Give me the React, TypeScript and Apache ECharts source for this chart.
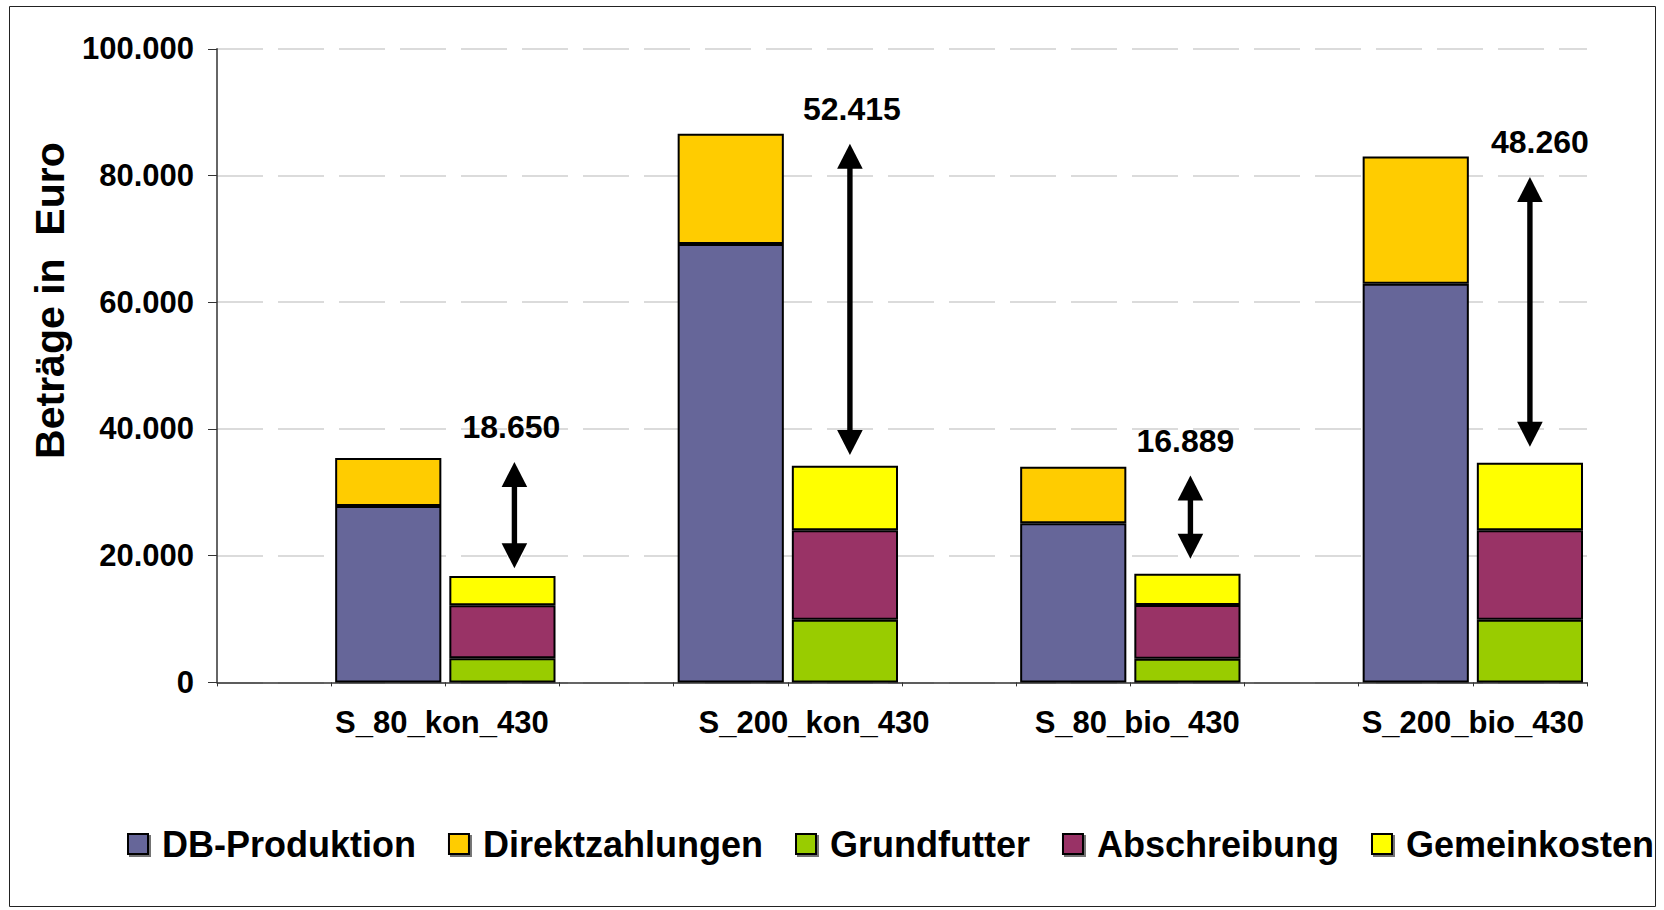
import React, { useEffect, useRef } from "react";
import * as echarts from "echarts";

// ---- data ----
const scenarios = ["S_80_kon_430", "S_200_kon_430", "S_80_bio_430", "S_200_bio_430"];
const dbProduktion = [27840, 69200, 25100, 62900];
const direktzahlungen = [7580, 17400, 8950, 20100];
const grundfutter = [3800, 9900, 3720, 9900];
const abschreibung = [8370, 14100, 8510, 14100];
const gemeinkosten = [4620, 10200, 4930, 10650];
const differenzen = [18650, 52415, 16889, 48260];
const arrowTop = [34800, 85000, 32650, 79750];
const arrowBottom = [18000, 35900, 19500, 37200];
const yTicks = [0, 20000, 40000, 60000, 80000, 100000];

// ---- layout constants ----
const FONT = "'Liberation Sans', Arial, sans-serif";
const labelSlots = [1.97, 5.23, 8.06, 11.0];
const arrowNudge = [12, 5, 3, 0];
const arrowLabelNudge = [-3, 2, -5, 10];

const fmt = (v: number) => String(Math.round(v)).replace(/\B(?=(\d{3})+(?!\d))/g, ".");

const slotNames = scenarios.flatMap((s) => [`${s}|leer`, `${s}|Erlöse`, `${s}|Kosten`]);
const toSlots = (vals: number[], offset: number) => {
  const arr: (number | string)[] = slotNames.map(() => "-");
  vals.forEach((v, i) => {
    arr[3 * i + offset] = v;
  });
  return arr;
};

export default function App() {
  const ref = useRef<HTMLDivElement>(null);
  useEffect(() => {
    if (!ref.current) return;
    const chart = echarts.init(ref.current, undefined, { renderer: "svg" });
    const barBase = {
      type: "bar" as const,
      stack: "total",
      barCategoryGap: "7%",
      xAxisIndex: 0,
      yAxisIndex: 0,
    };
    const style = (c: string) => ({ color: c, borderColor: "#000", borderWidth: 2 });
    const headH = 25;
    const hw = 12.8;
    chart.setOption({
      animation: false,
      backgroundColor: "#fff",
      textStyle: { fontFamily: FONT },
      graphic: [
        {
          type: "rect",
          silent: true,
          shape: { x: 9.5, y: 6.5, width: 1646, height: 900 },
          style: { fill: "none", stroke: "#222", lineWidth: 1 },
        },
      ],
      grid: { left: 217, right: 77, top: 48.8, bottom: 227.6, containLabel: false },
      legend: {
        left: 127,
        top: 826,
        width: 1600,
        padding: 0,
        itemGap: 32,
        itemWidth: 20,
        itemHeight: 20,
        icon: "rect",
        itemStyle: {
          borderColor: "#000",
          borderWidth: 2,
          shadowColor: "rgba(0,0,0,0.55)",
          shadowOffsetX: 2,
          shadowOffsetY: 2,
          shadowBlur: 0,
        },
        textStyle: {
          fontSize: 36,
          fontWeight: "bold",
          color: "#000",
          fontFamily: FONT,
          padding: [0, 0, 0, 9],
        },
        data: ["DB-Produktion", "Direktzahlungen", "Grundfutter", "Abschreibung", "Gemeinkosten"],
      },
      xAxis: [
        {
          type: "category",
          data: slotNames,
          boundaryGap: true,
          axisLine: { show: true, lineStyle: { color: "#333", width: 1.5 } },
          axisTick: { show: true, interval: 0, length: 4, lineStyle: { color: "#333" } },
          axisLabel: { show: false },
          splitLine: { show: false },
        },
        {
          type: "value",
          min: 0,
          max: 12,
          position: "bottom",
          axisLine: { show: false },
          axisTick: { show: false },
          splitLine: { show: false },
          axisLabel: {
            customValues: labelSlots,
            margin: 25,
            fontSize: 31,
            fontWeight: "bold",
            color: "#000",
            fontFamily: FONT,
            formatter: (v: number) => {
              const idx = labelSlots.findIndex((s) => Math.abs(s - v) < 1e-6);
              return idx >= 0 ? scenarios[idx] : "";
            },
          },
        },
      ],
      yAxis: {
        type: "value",
        min: 0,
        max: 100000,
        interval: 20000,
        name: "Beträge in  Euro",
        nameLocation: "middle",
        nameGap: 147,
        nameTextStyle: {
          fontSize: 41,
          fontWeight: "bold",
          color: "#000",
          fontFamily: FONT,
          padding: [0, 0, 0, 130],
        },
        axisLine: { show: true, lineStyle: { color: "#333", width: 1.5 } },
        axisTick: { show: true, length: 9, lineStyle: { color: "#333" } },
        axisLabel: {
          margin: 23,
          fontSize: 31,
          fontWeight: "bold",
          color: "#000",
          fontFamily: FONT,
          formatter: (v: number) => (yTicks.includes(v) ? fmt(v) : ""),
        },
        splitLine: {
          show: true,
          lineStyle: { color: "#cfcfcf", width: 1.5, type: [46, 15] },
        },
      },
      series: [
        { ...barBase, name: "DB-Produktion", data: toSlots(dbProduktion, 1), itemStyle: style("#666699") },
        { ...barBase, name: "Direktzahlungen", data: toSlots(direktzahlungen, 1), itemStyle: style("#FFCC00") },
        { ...barBase, name: "Grundfutter", data: toSlots(grundfutter, 2), itemStyle: style("#99CC00") },
        { ...barBase, name: "Abschreibung", data: toSlots(abschreibung, 2), itemStyle: style("#993366") },
        { ...barBase, name: "Gemeinkosten", data: toSlots(gemeinkosten, 2), itemStyle: style("#FFFF00") },
        {
          type: "custom",
          name: "Differenz",
          xAxisIndex: 0,
          yAxisIndex: 0,
          silent: true,
          z: 10,
          data: scenarios.map((_, i) => [3 * i + 2, arrowTop[i], arrowBottom[i], i]),
          encode: { x: 0, y: [1, 2] },
          renderItem: (params: any, api: any) => {
            const i = api.value(3);
            const t = api.coord([api.value(0), api.value(1)]);
            const b = api.coord([api.value(0), api.value(2)]);
            const x = t[0] + arrowNudge[i];
            const ty = t[1];
            const by = b[1];
            return {
              type: "group",
              children: [
                {
                  type: "rect",
                  shape: { x: x - 2.7, y: ty + headH - 1, width: 5.4, height: by - ty - 2 * headH + 2 },
                  style: { fill: "#000" },
                },
                {
                  type: "polygon",
                  shape: { points: [[x, ty], [x - hw, ty + headH], [x + hw, ty + headH]] },
                  style: { fill: "#000" },
                },
                {
                  type: "polygon",
                  shape: { points: [[x, by], [x - hw, by - headH], [x + hw, by - headH]] },
                  style: { fill: "#000" },
                },
                {
                  type: "text",
                  x: x + arrowLabelNudge[i],
                  y: ty - 35,
                  style: {
                    text: fmt(differenzen[i]),
                    fontSize: 32,
                    fontWeight: "bold",
                    fontFamily: FONT,
                    fill: "#000",
                    textAlign: "center",
                    textVerticalAlign: "middle",
                  },
                },
              ],
            };
          },
        },
      ],
    });
    return () => chart.dispose();
  }, []);
  return (
    <div
      ref={ref}
      style={{ position: "absolute", left: 0, top: 0, width: 1664, height: 910, background: "#fff" }}
    />
  );
}
